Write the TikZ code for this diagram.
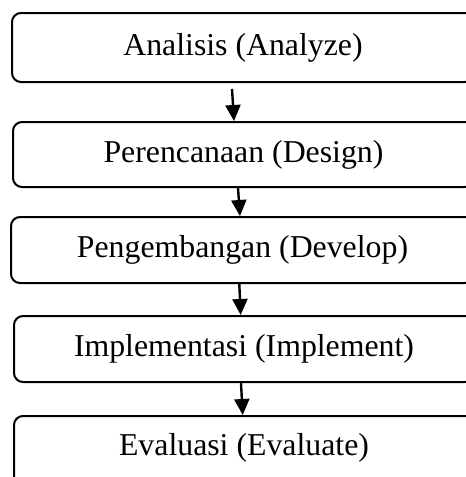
\documentclass[tikz,border=0pt]{standalone}
\usepackage{fontspec}
\setmainfont{Liberation Serif}
\usetikzlibrary{arrows.meta}
\tikzset{
  stagebox/.style={draw=black, line width=2pt, rounded corners=9pt, rectangle,
    inner sep=0pt, font=\fontsize{31.8}{38}\selectfont},
  flowarrow/.style={line width=2.4pt, -{Triangle[width=15pt,length=16pt]}}
}
\begin{document}
\begin{tikzpicture}[x=1pt,y=-1pt]
\useasboundingbox (0,0) rectangle (466,477);
\clip (0,0) rectangle (466,477);
\node[stagebox, minimum width=462pt, minimum height=69pt] (b1) at (243,47.5) {Analisis (Analyze)};
\node[stagebox, minimum width=461pt, minimum height=65pt] (b2) at (243.5,154.5) {Perencanaan (Design)};
\node[stagebox, minimum width=463pt, minimum height=66pt] (b3) at (242.5,250) {Pengembangan (Develop)};
\node[stagebox, minimum width=460pt, minimum height=66pt] (b4) at (244,349) {Implementasi (Implement)};
\node[stagebox, minimum width=460pt, minimum height=80pt, text height=22pt, text depth=6pt] (b5) at (244,456) {};
\node[font=\fontsize{31.8}{38}\selectfont, inner sep=0pt] (t5) at (244,448) {Evaluasi (Evaluate)};
\draw[flowarrow] ([xshift=-11pt,yshift=-6pt]b1.south) -- ([xshift=-9.5pt]b2.north);
\draw[flowarrow] ([xshift=-5.5pt]b2.south) -- ([xshift=-2.5pt]b3.north);
\draw[flowarrow] ([xshift=-3.2pt]b3.south) -- ([xshift=-3.3pt]b4.north);
\draw[flowarrow] ([xshift=-3pt]b4.south) -- ([xshift=-1.3pt]b5.north);
\end{tikzpicture}
\end{document}
